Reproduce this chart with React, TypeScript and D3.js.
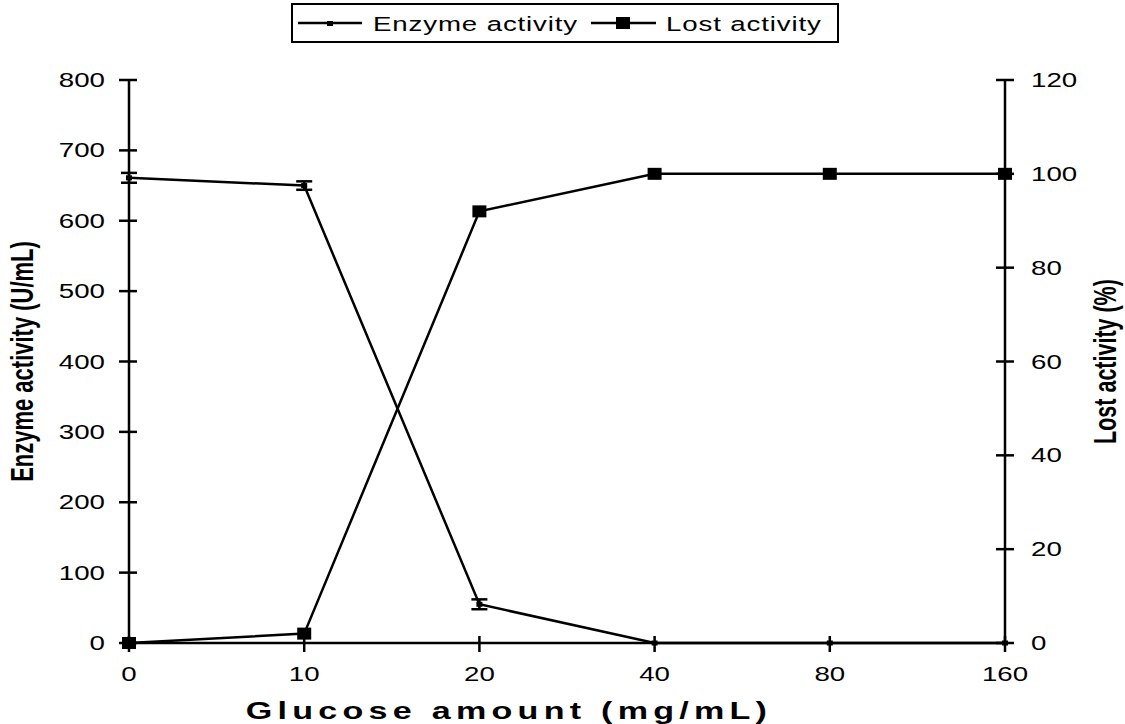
import React from 'react';
import * as d3 from 'd3';

// chart data
const glucose = ['0', '10', '20', '40', '80', '160'];
const enzymeActivity = [661, 650, 55, 0, 0, 0];
const enzymeError = [7, 6, 7, 0, 0, 0];
const lostActivity = [0, 2, 92, 100, 100, 100];
const leftTicks = [0, 100, 200, 300, 400, 500, 600, 700, 800];
const rightTicks = [0, 20, 40, 60, 80, 100, 120];

const W = 1125;
const H = 724;
const margin = { top: 80, right: 120, bottom: 81, left: 129 };
const font = '"Liberation Sans", Arial, sans-serif';
const SX = 1.42; // the original figure is stretched sideways

const x = d3.scalePoint<string>().domain(glucose).range([margin.left, W - margin.right]);
const yLeft = d3.scaleLinear().domain([0, 800]).range([H - margin.bottom, margin.top]);
const yRight = d3.scaleLinear().domain([0, 120]).range([H - margin.bottom, margin.top]);

const enzymeLine = d3.line<number>().x((d, i) => x(glucose[i])!).y(d => yLeft(d));
const lostLine = d3.line<number>().x((d, i) => x(glucose[i])!).y(d => yRight(d));

// text drawn in a frame stretched by SX
function Wide(props: { x: number; y: number; anchor?: string; size: number; bold?: boolean; spacing?: number; children: React.ReactNode }) {
  return (
    <text transform={`translate(${props.x},${props.y}) scale(${SX},1)`} textAnchor={props.anchor || 'start'}
      fontFamily={font} fontSize={props.size} fontWeight={props.bold ? 'bold' : 'normal'}
      letterSpacing={props.spacing || 0} fill="#000">{props.children}</text>
  );
}

export default function App() {
  const x0 = margin.left;
  const x1 = W - margin.right;
  const yBase = H - margin.bottom;
  const yMid = (yBase + margin.top) / 2;
  return (
    <svg width={W} height={H} style={{ position: 'absolute', left: 0, top: 0, background: '#fff' }}>
      <rect width={W} height={H} fill="#fff" />
      {/* axes */}
      <g stroke="#000" strokeWidth={2.5}>
        <line x1={x0} x2={x0} y1={yLeft(800)} y2={yBase} />
        <line x1={x1} x2={x1} y1={yRight(120)} y2={yBase} />
        <line x1={x0} x2={x1} y1={yBase} y2={yBase} />
        {leftTicks.map(t => (
          <line key={'l' + t} x1={x0 - 10} x2={x0 + 8} y1={yLeft(t)} y2={yLeft(t)} />
        ))}
        {rightTicks.map(t => (
          <line key={'r' + t} x1={x1 - 9} x2={x1 + 9} y1={yRight(t)} y2={yRight(t)} />
        ))}
        {glucose.map(g => (
          <line key={'x' + g} x1={x(g)} x2={x(g)} y1={yBase - 7} y2={yBase + 9} />
        ))}
      </g>
      {leftTicks.map(t => (
        <Wide key={'lt' + t} x={x0 - 24} y={yLeft(t) + 7} anchor="end" size={19.5}>{t}</Wide>
      ))}
      {rightTicks.map(t => (
        <Wide key={'rt' + t} x={x1 + 26} y={yRight(t) + 7} size={19.5}>{t}</Wide>
      ))}
      {glucose.map(g => (
        <Wide key={'xt' + g} x={x(g)!} y={yBase + 38} anchor="middle" size={19.5}>{g}</Wide>
      ))}
      {/* axis titles */}
      <Wide x={(x0 + x1) / 2 - 58} y={719} anchor="middle" size={24} bold spacing={3.7}>Glucose amount (mg/mL)</Wide>
      <text transform={`translate(33,${yMid}) scale(${SX},1) rotate(-90)`} textAnchor="middle"
        fontFamily={font} fontWeight="bold" fontSize={22}>Enzyme activity (U/mL)</text>
      <text transform={`translate(1116,${yMid}) scale(${SX},1) rotate(-90)`} textAnchor="middle"
        fontFamily={font} fontWeight="bold" fontSize={21.5}>Lost activity (%)</text>
      {/* series */}
      <path d={enzymeLine(enzymeActivity)!} fill="none" stroke="#000" strokeWidth={2.5} />
      <path d={lostLine(lostActivity)!} fill="none" stroke="#000" strokeWidth={2.5} />
      <g stroke="#000" strokeWidth={2.5}>
        {enzymeActivity.map((v, i) => enzymeError[i] > 0 && (
          <g key={'e' + i}>
            <line x1={x(glucose[i])} x2={x(glucose[i])} y1={yLeft(v - enzymeError[i])} y2={yLeft(v + enzymeError[i])} />
            <line x1={x(glucose[i])! - 8} x2={x(glucose[i])! + 8} y1={yLeft(v - enzymeError[i])} y2={yLeft(v - enzymeError[i])} />
            <line x1={x(glucose[i])! - 8} x2={x(glucose[i])! + 8} y1={yLeft(v + enzymeError[i])} y2={yLeft(v + enzymeError[i])} />
          </g>
        ))}
      </g>
      {enzymeActivity.map((v, i) => (
        <rect key={'em' + i} x={x(glucose[i])! - 3} y={yLeft(v) - 2.5} width={6} height={5} fill="#000" />
      ))}
      {lostActivity.map((v, i) => (
        <rect key={'lm' + i} x={x(glucose[i])! - 7} y={yRight(v) - 6} width={14} height={12} fill="#000" />
      ))}
      {/* legend */}
      <g>
        <rect x={292} y={4} width={546} height={38} fill="#fff" stroke="#000" strokeWidth={2} />
        <line x1={298} x2={362} y1={23} y2={23} stroke="#000" strokeWidth={2.5} />
        <rect x={327} y={21} width={6} height={5} fill="#000" />
        <Wide x={373} y={31} size={19.5} spacing={0.6}>Enzyme activity</Wide>
        <line x1={591} x2={656} y1={23} y2={23} stroke="#000" strokeWidth={2.5} />
        <rect x={616} y={17} width={14} height={12} fill="#000" />
        <Wide x={666} y={31} size={19.5} spacing={0.6}>Lost activity</Wide>
      </g>
    </svg>
  );
}
